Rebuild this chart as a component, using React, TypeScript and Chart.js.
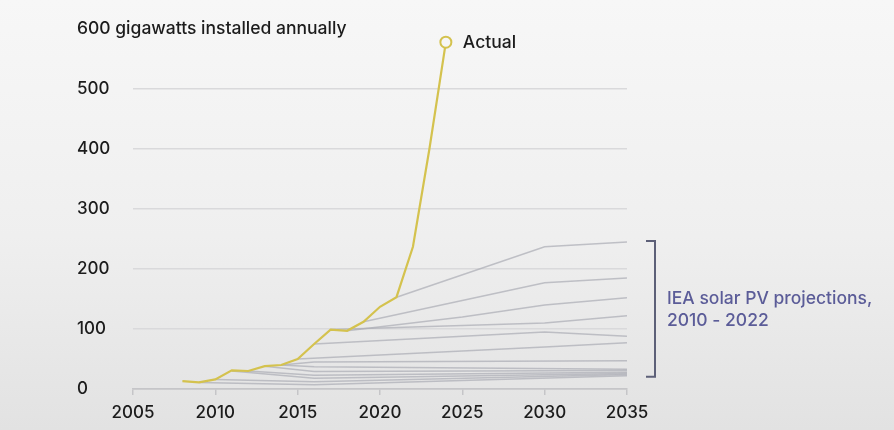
import React, { useEffect, useRef } from 'react';
import { Chart, registerables } from 'chart.js';

Chart.register(...registerables);

// ---- Data ----
const actualYears = [2008, 2009, 2010, 2011, 2012, 2013, 2014, 2015, 2016, 2017, 2018, 2019, 2020, 2021, 2022, 2023, 2024];
const actualValues = [13, 11, 16, 31, 30, 38, 40, 50, 75, 99, 97, 112, 137, 153, 237, 400, 578];

// IEA projections: [year, gigawatts]
const weo2010 = [[2009, 11], [2016, 7], [2035, 22]];
const weo2011 = [[2010, 16], [2016, 12], [2035, 24]];
const weo2012 = [[2011, 30], [2016, 18], [2035, 26]];
const weo2013 = [[2012, 30], [2016, 23], [2035, 28]];
const weo2014 = [[2013, 38], [2016, 29], [2035, 31]];
const weo2015 = [[2014, 40], [2016, 37], [2035, 33]];
const weo2016 = [[2014, 40], [2016, 45], [2035, 47]];
const weo2017 = [[2015, 50], [2030, 70], [2035, 77]];
const weo2018 = [[2016, 75], [2030, 95], [2035, 88]];
const weo2019 = [[2017, 99], [2030, 110], [2035, 122]];
const weo2020 = [[2018, 97], [2025, 120], [2030, 140], [2035, 152]];
const weo2021 = [[2019, 112], [2030, 177], [2035, 185]];
const weo2022 = [[2021, 153], [2030, 237], [2035, 245]];
const projections = [weo2010, weo2011, weo2012, weo2013, weo2014, weo2015, weo2016, weo2017, weo2018, weo2019, weo2020, weo2021, weo2022];

const xMin = 2005;
const xMax = 2035;
const xStep = 5;
const yMin = 0;
const yMax = 600;
const yStep = 100;
const yTopLabel = '600 gigawatts installed annually';
const actualLabel = 'Actual';
const bracketLines = ['IEA solar PV projections,', '2010 - 2022'];

const FONT = 'Inter, "Noto Sans", sans-serif';
const TEXT = '#1c1c1c';
const YELLOW = '#d4c24e';
const GREY_LINE = 'rgba(172,173,182,0.72)';

const annotatePlugin = {
  id: 'annotate',
  afterDraw(chart: any) {
    const { ctx, chartArea, scales } = chart;
    const x = scales.x;
    const y = scales.y;
    ctx.save();
    // top y label (600 ...), left aligned with tick labels
    ctx.font = `500 17.5px ${FONT}`;
    ctx.fillStyle = TEXT;
    ctx.textAlign = 'left';
    ctx.textBaseline = 'middle';
    ctx.fillText(yTopLabel, y.left, y.getPixelForValue(yMax));

    // "Actual" label next to the last actual point
    const li = actualYears.length - 1;
    const px = x.getPixelForValue(actualYears[li]);
    const py = y.getPixelForValue(actualValues[li]);
    ctx.fillText(actualLabel, px + 17, py + 1);

    // Bracket around projection end values
    const ends = projections.map((p) => p[p.length - 1][1]);
    const top = y.getPixelForValue(Math.max(...ends)) - 1;
    const bottom = y.getPixelForValue(Math.min(...ends)) + 1;
    const bx = chartArea.right + 28;
    ctx.strokeStyle = '#5d6078';
    ctx.lineWidth = 2;
    ctx.beginPath();
    ctx.moveTo(bx - 9, top);
    ctx.lineTo(bx, top);
    ctx.lineTo(bx, bottom);
    ctx.lineTo(bx - 9, bottom);
    ctx.stroke();

    const mid = (top + bottom) / 2;
    ctx.fillStyle = '#5b5c98';
    ctx.font = `500 17.5px ${FONT}`;
    ctx.fillText(bracketLines[0], bx + 12, mid - 10);
    ctx.fillText(bracketLines[1], bx + 12, mid + 12);
    ctx.restore();
  },
};

export default function App() {
  const canvasRef = useRef<HTMLCanvasElement | null>(null);

  useEffect(() => {
    document.body.style.margin = '0';
    const canvas = canvasRef.current;
    if (!canvas) return;

    const projectionDatasets = projections.map((p, i) => ({
      label: `IEA projection ${2010 + i}`,
      data: p.map(([yr, v]) => ({ x: yr, y: v })),
      borderColor: GREY_LINE,
      borderWidth: 1.5,
      pointRadius: 0,
      tension: 0,
      order: 2,
    }));

    const chart = new Chart(canvas, {
      type: 'line',
      data: {
        datasets: [
          {
            label: 'Actual',
            data: actualYears.map((yr, i) => ({ x: yr, y: actualValues[i] })),
            borderColor: YELLOW,
            borderWidth: 2.2,
            pointRadius: actualYears.map((_, i) => (i === actualYears.length - 1 ? 5.5 : 0)),
            pointBorderWidth: 2,
            pointBorderColor: YELLOW,
            pointBackgroundColor: '#f6f6f6',
            tension: 0,
            order: 1,
          },
          ...projectionDatasets,
        ],
      },
      options: {
        responsive: false,
        animation: false,
        layout: { padding: { left: 77, top: 29, right: 267, bottom: 0 } },
        plugins: {
          legend: { display: false },
          tooltip: { enabled: false },
        },
        scales: {
          x: {
            type: 'linear',
            min: xMin,
            max: xMax,
            afterFit: (s: any) => {
              s.height = 41;
            },
            ticks: {
              stepSize: xStep,
              padding: 8,
              color: TEXT,
              font: { family: FONT, size: 17, weight: '500' },
              callback: (v: any) => String(v),
            },
            grid: {
              drawOnChartArea: false,
              drawTicks: true,
              tickLength: 6,
              color: '#c5c5c8',
              lineWidth: 1.5,
            },
            border: { display: true, color: '#c5c5c8', width: 1.5 },
          },
          y: {
            type: 'linear',
            min: yMin,
            max: yMax,
            afterFit: (s: any) => {
              s.width = 56;
            },
            ticks: {
              stepSize: yStep,
              crossAlign: 'far',
              padding: 0,
              color: TEXT,
              font: { family: FONT, size: 17, weight: '500' },
              callback: (v: any) => (v === yMax ? '' : String(v)),
            },
            grid: {
              drawTicks: false,
              color: (c: any) => (c.tick && c.tick.value === yMax ? 'rgba(0,0,0,0)' : c.tick && c.tick.value === 0 ? '#c5c5c8' : '#d9d9db'),
              lineWidth: 1.5,
            },
            border: { display: false },
          },
        },
      },
      plugins: [annotatePlugin],
    });

    return () => chart.destroy();
  }, []);

  return (
    <div
      style={{
        width: 894,
        height: 430,
        background: 'linear-gradient(180deg, #f7f7f7 0%, #efefef 55%, #e2e2e2 100%)',
        overflow: 'hidden',
      }}
    >
      <canvas ref={canvasRef} width={894} height={430} style={{ display: 'block' }} />
    </div>
  );
}
